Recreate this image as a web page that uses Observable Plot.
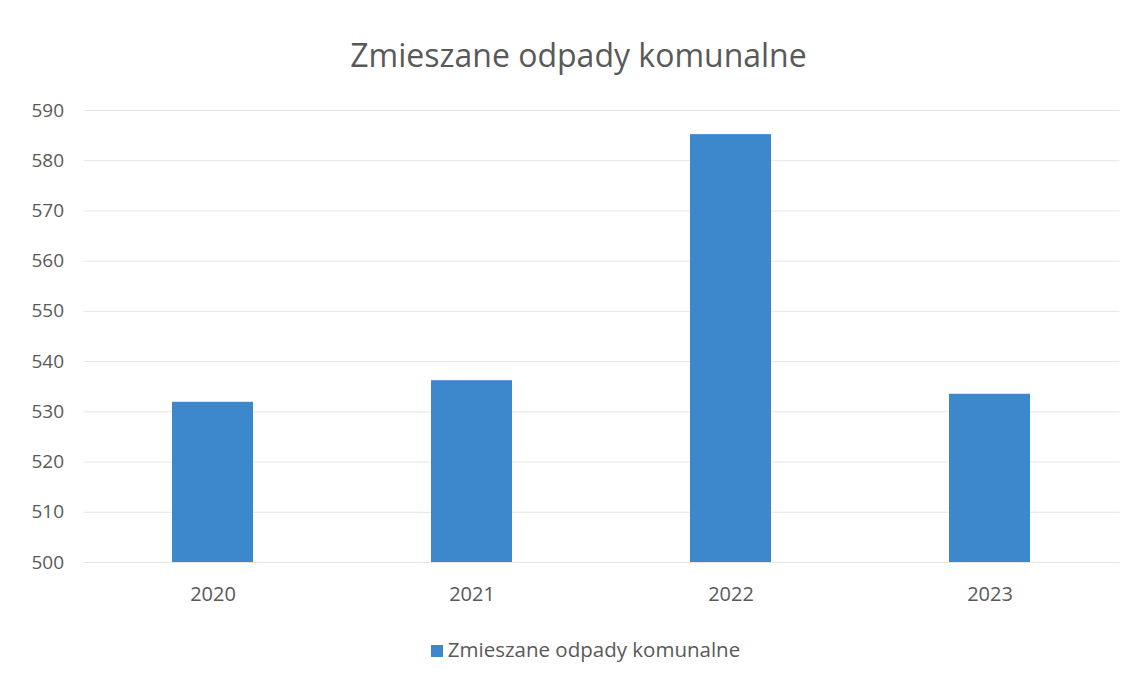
<!DOCTYPE html>
<html>
<head>
<meta charset="utf-8">
<script src="https://cdn.jsdelivr.net/npm/d3@7"></script>
<script src="https://cdn.jsdelivr.net/npm/@observablehq/plot@0.6"></script>
<style>
  body { margin: 0; background: #fff; font-family: "Open Sans", sans-serif; }
  #wrap { width: 1141px; height: 682px; position: relative; }
  #title { position: absolute; top: 33px; left: 8px; width: 1141px; text-align: center; font-size: 32px; color: #595959; line-height: 44px; }
  #chart { position: absolute; top: 80px; left: 0; }
  #legend { position: absolute; top: 635px; left: 15px; width: 1141px; text-align: center; font-size: 20.5px; color: #595959; }
  #legend .sw { display: inline-block; width: 12px; height: 12px; background: #3d88cc; margin-right: 5px; vertical-align: 0px; }
</style>
</head>
<body>
<div id="wrap">
  <div id="title">Zmieszane odpady komunalne</div>
  <div id="chart"></div>
  <div id="legend"><span class="sw"></span>Zmieszane odpady komunalne</div>
</div>
<script>
const years = ["2020", "2021", "2022", "2023"];
const values = [531.9, 536.2, 585.2, 533.5];
const yTicks = [500, 510, 520, 530, 540, 550, 560, 570, 580, 590];

const data = years.map((y, i) => ({year: y, value: values[i]}));

const plot = Plot.plot({
  width: 1141,
  height: 545,
  marginTop: 30,
  marginBottom: 63,
  marginLeft: 83.5,
  marginRight: 21.5,
  style: { fontFamily: "Open Sans, sans-serif", fontSize: "19px", color: "#595959", background: "transparent" },
  x: { domain: years, paddingInner: 0.687, paddingOuter: 0.3435, label: null },
  y: { domain: [500, 590], label: null },
  marks: [
    Plot.gridY(yTicks, { stroke: "#e6e6e6", strokeOpacity: 1, strokeWidth: 1 }),
    Plot.barY(data, { x: "year", y1: 500, y2: "value", fill: "#3d88cc" }),
    Plot.axisY(yTicks, { tickSize: 0, tickPadding: 20, label: null, fontSize: 19 }),
    Plot.axisX({ tickSize: 0, tickPadding: 24, label: null, fontSize: 20 })
  ]
});
document.getElementById("chart").appendChild(plot);
</script>
</body>
</html>
